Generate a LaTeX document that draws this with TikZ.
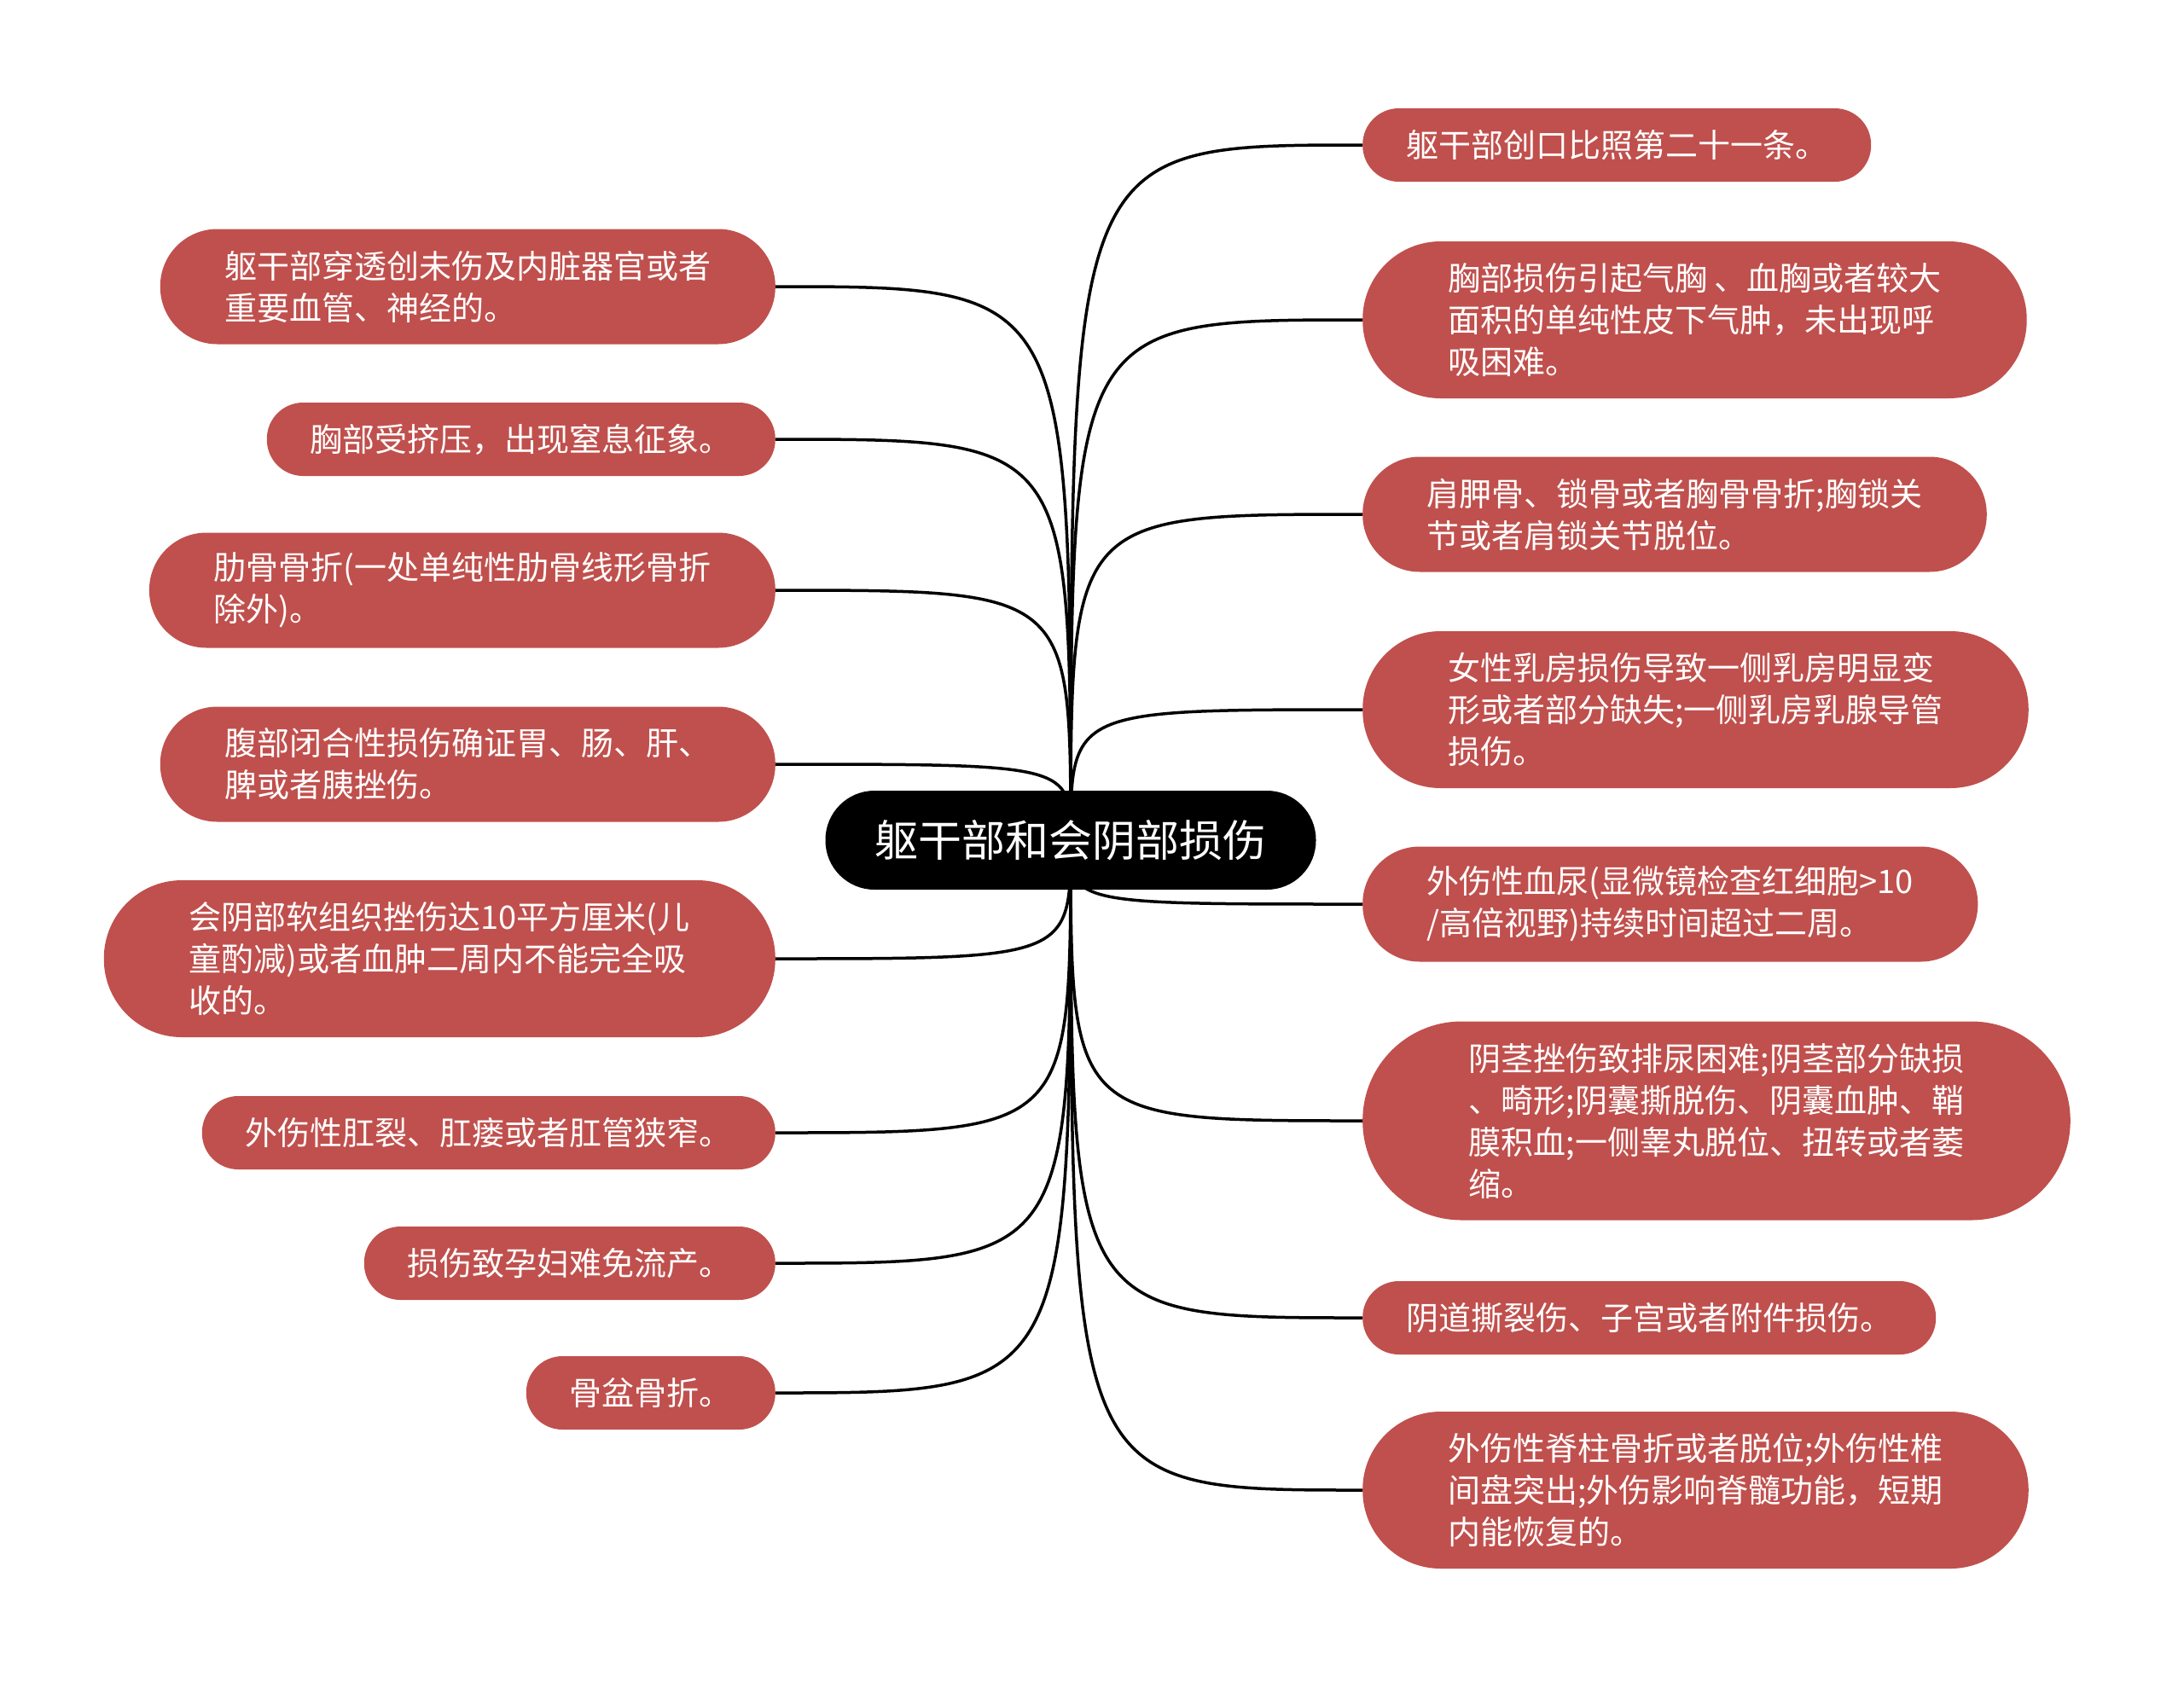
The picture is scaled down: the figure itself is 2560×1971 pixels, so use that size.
\documentclass[tikz,border=0pt]{standalone}
\usepackage{fontspec}
\setmainfont{Noto Sans CJK SC}
\usetikzlibrary{backgrounds,calc,positioning}

\definecolor{leafred}{RGB}{192,80,77}

\tikzset{
  root/.style={rectangle, fill=black, text=white, minimum height=116pt, inner ysep=4pt,
    inner xsep=58pt, rounded corners=57.5pt, font=\fontsize{51}{60}\selectfont},
  % #1 = number of text lines
  leaf/.style={rectangle, fill=leafred, text=white, align=left,
    minimum height={49pt*#1+37pt}, inner ysep=4pt, inner xsep={24.5pt*#1+26.5pt},
    rounded corners={24.5pt*#1+18pt}, font=\fontsize{38}{49}\selectfont},
  branch/.style={line width=3.5pt, black},
}

\begin{document}
\begin{tikzpicture}[x=1pt,y=-1pt]
  \useasboundingbox (0,0) rectangle (2560,1971);

  \node[root] (root) at (1255,985) {躯干部和会阴部损伤};

  % left side
  \node[leaf=2, anchor=east] (l1) at (909,336) {躯干部穿透创未伤及内脏器官或者\\重要血管、神经的。};
  \node[leaf=1, anchor=east] (l2) at (909,515) {胸部受挤压，出现窒息征象。};
  \node[leaf=2, anchor=east] (l3) at (909,692) {肋骨骨折(一处单纯性肋骨线形骨折\\除外)。};
  \node[leaf=2, anchor=east] (l4) at (909,896) {腹部闭合性损伤确证胃、肠、肝、\\脾或者胰挫伤。};
  \node[leaf=3, anchor=east] (l5) at (909,1124) {会阴部软组织挫伤达10平方厘米(儿\\童酌减)或者血肿二周内不能完全吸\\收的。};
  \node[leaf=1, anchor=east] (l6) at (909,1328) {外伤性肛裂、肛瘘或者肛管狭窄。};
  \node[leaf=1, anchor=east] (l7) at (909,1481) {损伤致孕妇难免流产。};
  \node[leaf=1, anchor=east] (l8) at (909,1633) {骨盆骨折。};

  % right side
  \node[leaf=1, anchor=west] (r1) at (1597,170) {躯干部创口比照第二十一条。};
  \node[leaf=3, anchor=west] (r2) at (1597,375) {胸部损伤引起气胸 、血胸或者较大\\面积的单纯性皮下气肿，未出现呼\\吸困难。};
  \node[leaf=2, anchor=west] (r3) at (1597,603) {肩胛骨、锁骨或者胸骨骨折;胸锁关\\节或者肩锁关节脱位。};
  \node[leaf=3, anchor=west] (r4) at (1597,832) {女性乳房损伤导致一侧乳房明显变\\形或者部分缺失;一侧乳房乳腺导管\\损伤。};
  \node[leaf=2, anchor=west] (r5) at (1597,1060) {外伤性血尿(显微镜检查红细胞>10\\/高倍视野)持续时间超过二周。};
  \node[leaf=4, anchor=west] (r6) at (1597,1314) {阴茎挫伤致排尿困难;阴茎部分缺损\\、畸形;阴囊撕脱伤、阴囊血肿、鞘\\膜积血;一侧睾丸脱位、扭转或者萎\\缩。};
  \node[leaf=1, anchor=west] (r7) at (1597,1545) {阴道撕裂伤、子宫或者附件损伤。};
  \node[leaf=3, anchor=west] (r8) at (1597,1747) {外伤性脊柱骨折或者脱位;外伤性椎\\间盘突出;外伤影响脊髓功能，短期\\内能恢复的。};

  \begin{pgfonlayer}{background}
    \foreach \n in {l1,l2,l3,l4,l5,l6,l7,l8}
      \draw[branch] (root.center) .. controls (root.center |- \n.east) .. (\n.east);
    \foreach \n in {r1,r2,r3,r4,r5,r6,r7,r8}
      \draw[branch] (root.center) .. controls (root.center |- \n.west) .. (\n.west);
  \end{pgfonlayer}
\end{tikzpicture}
\end{document}
